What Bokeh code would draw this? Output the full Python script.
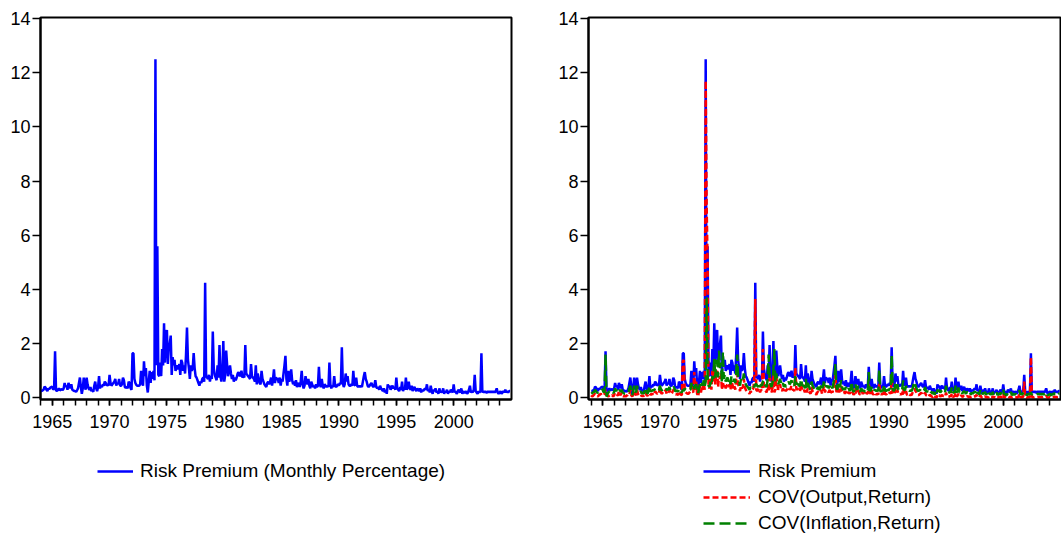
import numpy as np
from bokeh.plotting import figure
from bokeh.models import Range1d, FixedTicker, Legend, LegendItem
from bokeh.layouts import row, column
from bokeh.embed import file_html
from bokeh.resources import INLINE

# ---------------- data (monthly, Jan 1964 - Dec 2004) ----------------
start_year = 1964
tick_years = [1965, 1970, 1975, 1980, 1985, 1990, 1995, 2000]
tick_labels = ["1965", "1970", "1975", "1980", "1985", "1990", "1995", "2000"]
minor_years = list(range(1964, 2005))
y_ticks = [0, 2, 4, 6, 8, 10, 12, 14]
y_labels = ["0", "2", "4", "6", "8", "10", "12", "14"]

label_left = "Risk Premium (Monthly Percentage)"
label_rp = "Risk Premium"
label_out = "COV(Output,Return)"
label_inf = "COV(Inflation,Return)"

# Risk premium
rp_1964_1973 = [
    0.25, 0.25, 0.28, 0.30, 0.42, 0.38, 0.30, 0.25, 0.35, 0.32, 0.38, 0.40,
    0.42, 0.30, 0.35, 1.72, 0.28, 0.25, 0.30, 0.35, 0.28, 0.30, 0.33, 0.28,
    0.35, 0.55, 0.40, 0.45, 0.30, 0.55, 0.45, 0.35, 0.50, 0.30, 0.28, 0.25,
    0.25, 0.22, 0.28, 0.35, 0.55, 0.75, 0.40, 0.15, 0.35, 0.75, 0.45, 0.30,
    0.75, 0.50, 0.35, 0.30, 0.40, 0.25, 0.30, 0.22, 0.45, 0.60, 0.35, 0.25,
    0.40, 0.80, 0.35, 0.45, 0.40, 0.50, 0.45, 0.60, 0.55, 0.45, 0.50, 0.45,
    0.85, 0.55, 0.45, 0.50, 0.55, 0.60, 0.70, 0.45, 0.55, 0.50, 0.70, 0.45,
    0.45, 0.50, 0.75, 0.65, 0.40, 0.38, 0.40, 0.35, 0.60, 0.55, 0.35, 0.30,
    1.65, 1.65, 0.70, 0.55, 0.48, 0.45, 0.45, 0.45, 0.50, 1.00, 0.60, 0.45,
    1.35, 0.80, 1.10, 0.45, 0.20, 0.60, 1.00, 0.55, 0.95, 0.70, 1.00, 0.65,
]
rp_1974_1983 = [
    12.5, 1.20, 5.60, 0.85, 0.80, 1.30, 0.80, 1.80, 1.20, 2.75, 1.30, 2.40,
    2.50, 1.25, 1.90, 2.00, 2.30, 0.85, 1.50, 1.20, 1.40, 1.00, 1.10, 1.20,
    1.05, 1.25, 0.85, 1.40, 1.30, 1.00, 1.20, 0.90, 1.60, 2.60, 1.40, 1.10,
    0.70, 1.20, 1.00, 1.10, 1.65, 1.10, 0.80, 0.75, 0.65, 0.55, 0.45, 0.60,
    0.55, 0.70, 0.75, 0.60, 4.25, 0.80, 0.75, 0.70, 0.85, 0.60, 0.80, 0.70,
    2.45, 1.10, 0.85, 0.75, 0.65, 1.20, 0.75, 1.95, 0.80, 0.60, 0.90, 2.10,
    0.60, 0.85, 1.75, 1.20, 0.80, 1.00, 1.20, 0.90, 0.70, 0.85, 0.60, 0.75,
    0.65, 0.75, 0.90, 0.95, 0.80, 0.85, 1.00, 0.75, 0.80, 0.75, 1.95, 0.90,
    0.85, 0.80, 0.75, 0.70, 1.25, 0.80, 0.75, 0.70, 0.60, 1.20, 0.50, 0.90,
    0.70, 0.55, 0.50, 1.00, 0.70, 0.60, 0.50, 0.45, 0.40, 0.55, 0.60, 0.50,
]
rp_1984_1993 = [
    0.60, 0.75, 0.45, 0.70, 1.05, 0.55, 0.75, 0.70, 0.70, 0.55, 0.75, 0.45,
    0.70, 0.60, 0.90, 1.20, 1.55, 0.70, 0.45, 1.00, 0.60, 0.75, 1.05, 0.65,
    0.50, 0.60, 0.45, 0.65, 0.40, 0.50, 0.55, 0.40, 0.60, 1.00, 0.50, 0.35,
    0.45, 0.80, 0.60, 0.50, 0.70, 0.45, 0.35, 0.60, 0.50, 0.40, 0.45, 0.35,
    0.50, 0.40, 0.45, 1.15, 0.50, 0.40, 0.70, 0.45, 0.35, 0.50, 0.45, 0.40,
    0.45, 0.40, 1.30, 0.50, 0.35, 0.45, 0.40, 0.80, 0.45, 0.40, 0.45, 0.50,
    0.45, 0.55, 0.50, 1.87, 0.55, 0.40, 0.50, 0.90, 0.60, 0.80, 0.50, 0.45,
    0.45, 0.50, 0.45, 1.00, 0.50, 0.45, 0.75, 0.45, 0.40, 0.45, 0.40, 0.45,
    0.40, 0.60, 0.80, 0.95, 0.70, 0.60, 0.45, 0.40, 0.45, 0.50, 0.55, 0.45,
    0.40, 0.45, 0.65, 0.40, 0.35, 0.40, 0.30, 0.45, 0.35, 0.30, 0.25, 0.35,
]
rp_1994_2004 = [
    0.20, 0.30, 0.15, 0.50, 0.40, 0.45, 0.30, 0.40, 0.45, 0.35, 0.40, 0.30,
    0.75, 0.35, 0.30, 0.25, 0.40, 0.30, 0.60, 0.25, 0.35, 0.30, 0.75, 0.30,
    0.40, 0.60, 0.35, 0.30, 0.45, 0.25, 0.35, 0.40, 0.30, 0.25, 0.35, 0.30,
    0.25, 0.35, 0.20, 0.30, 0.25, 0.30, 0.35, 0.30, 0.50, 0.25, 0.30, 0.20,
    0.45, 0.25, 0.15, 0.30, 0.25, 0.35, 0.20, 0.25, 0.15, 0.35, 0.20, 0.25,
    0.20, 0.35, 0.15, 0.25, 0.20, 0.30, 0.15, 0.25, 0.20, 0.30, 0.25, 0.20,
    0.50, 0.20, 0.25, 0.15, 0.20, 0.30, 0.25, 0.20, 0.35, 0.15, 0.25, 0.20,
    0.20, 0.25, 0.15, 0.20, 0.30, 0.45, 0.20, 0.25, 0.20, 0.30, 0.85, 0.25,
    0.20, 0.15, 0.25, 0.20, 0.25, 1.65, 0.20, 0.25, 0.20, 0.25, 0.20, 0.20,
    0.25, 0.20, 0.25, 0.20, 0.25, 0.20, 0.25, 0.20, 0.25, 0.35, 0.20, 0.15,
    0.20, 0.25, 0.15, 0.20, 0.25, 0.20, 0.30, 0.20, 0.25, 0.20, 0.25, 0.25,
]

# COV(Output, Return)
cov_out_1964_1973 = [
    0.10, 0.05, 0.08, 0.12, 0.15, 0.10, 0.08, 0.05, 0.10, 0.12, 0.15, 0.10,
    0.12, 0.10, 0.15, 0.30, 0.10, 0.08, 0.05, 0.10, 0.12, 0.08, 0.10, 0.05,
    0.10, 0.20, 0.15, 0.12, 0.08, 0.25, 0.15, 0.10, 0.20, 0.08, 0.05, 0.08,
    0.05, 0.08, 0.10, 0.15, 0.12, 0.30, 0.10, 0.05, 0.12, 0.25, 0.15, 0.10,
    0.30, 0.15, 0.10, 0.08, 0.12, 0.05, 0.10, 0.05, 0.15, 0.20, 0.10, 0.08,
    0.12, 0.35, 0.10, 0.15, 0.12, 0.20, 0.15, 0.25, 0.20, 0.15, 0.18, 0.15,
    0.40, 0.20, 0.15, 0.20, 0.25, 0.22, 0.30, 0.15, 0.20, 0.18, 0.30, 0.15,
    0.15, 0.20, 0.30, 0.25, 0.15, 0.12, 0.15, 0.10, 0.25, 0.20, 0.12, 0.10,
    1.35, 1.40, 0.30, 0.20, 0.18, 0.15, 0.15, 0.20, 0.25, 0.60, 0.25, 0.20,
    0.95, 0.30, 0.60, 0.15, 0.05, 0.25, 0.50, 0.20, 0.40, 0.30, 0.55, 0.30,
]
cov_out_1974_1983 = [
    11.7, 7.10, 5.00, 0.40, 0.35, 0.70, 0.30, 1.00, 0.60, 1.20, 0.50, 0.90,
    1.00, 0.40, 0.80, 0.70, 0.90, 0.30, 0.60, 0.40, 0.50, 0.35, 0.45, 0.50,
    0.40, 0.50, 0.30, 0.60, 0.50, 0.35, 0.45, 0.30, 0.70, 0.90, 0.50, 0.40,
    0.25, 0.45, 0.35, 0.40, 0.70, 0.40, 0.30, 0.25, 0.20, 0.20, 0.15, 0.25,
    0.20, 0.30, 0.35, 0.80, 3.65, 0.30, 0.25, 0.30, 0.35, 0.20, 0.30, 0.25,
    1.80, 0.50, 0.30, 0.25, 0.20, 0.50, 0.25, 0.90, 0.30, 0.20, 0.35, 0.90,
    0.20, 0.30, 0.80, 0.50, 0.30, 0.40, 0.50, 0.30, 0.25, 0.35, 0.20, 0.30,
    0.25, 0.30, 0.35, 0.40, 0.30, 0.35, 0.45, 0.30, 0.30, 0.25, 1.10, 0.35,
    0.30, 0.35, 0.30, 0.25, 0.55, 0.30, 0.25, 0.30, 0.20, 0.50, 0.20, 0.35,
    0.25, 0.20, 0.15, 0.40, 0.25, 0.20, 0.15, 0.15, 0.12, 0.20, 0.25, 0.20,
]
cov_out_1984_1993 = [
    0.20, 0.30, 0.15, 0.25, 0.45, 0.20, 0.30, 0.25, 0.25, 0.20, 0.30, 0.15,
    0.25, 0.20, 0.35, 0.50, 0.90, 0.25, 0.15, 0.40, 0.20, 0.30, 0.45, 0.25,
    0.20, 0.25, 0.15, 0.25, 0.15, 0.20, 0.20, 0.15, 0.25, 0.45, 0.20, 0.12,
    0.15, 0.35, 0.20, 0.20, 0.30, 0.15, 0.12, 0.25, 0.20, 0.15, 0.20, 0.12,
    0.20, 0.15, 0.18, 0.50, 0.20, 0.15, 0.30, 0.15, 0.12, 0.20, 0.15, 0.12,
    0.15, 0.12, 0.55, 0.20, 0.12, 0.15, 0.12, 0.30, 0.15, 0.12, 0.15, 0.20,
    0.15, 0.20, 0.15, 0.70, 0.20, 0.12, 0.15, 0.35, 0.20, 0.30, 0.15, 0.15,
    0.12, 0.15, 0.12, 0.35, 0.15, 0.12, 0.25, 0.12, 0.10, 0.15, 0.10, 0.12,
    0.10, 0.20, 0.30, 0.35, 0.25, 0.20, 0.12, 0.10, 0.12, 0.15, 0.20, 0.12,
    0.10, 0.12, 0.20, 0.10, 0.08, 0.10, 0.05, 0.12, 0.08, 0.05, 0.03, 0.08,
]
cov_out_1994_2004 = [
    0.02, 0.05, 0.00, 0.12, 0.08, 0.10, 0.05, 0.08, 0.10, 0.06, 0.08, 0.05,
    0.20, 0.06, 0.05, 0.03, 0.08, 0.05, 0.15, 0.03, 0.06, 0.05, 0.20, 0.05,
    0.08, 0.15, 0.06, 0.05, 0.10, 0.03, 0.06, 0.08, 0.05, 0.03, 0.06, 0.05,
    0.03, 0.06, 0.02, 0.05, 0.03, 0.05, 0.06, 0.05, 0.12, 0.03, 0.05, 0.02,
    0.10, 0.03, 0.00, 0.05, 0.03, 0.06, 0.02, 0.03, 0.00, 0.06, 0.02, 0.03,
    0.02, 0.06, 0.00, 0.03, 0.02, 0.05, 0.00, 0.03, 0.02, 0.05, 0.03, 0.02,
    0.15, 0.02, 0.03, 0.00, 0.02, 0.05, 0.03, 0.02, 0.06, 0.00, 0.03, 0.02,
    0.02, 0.03, 0.00, 0.02, 0.05, 0.15, 0.02, 0.03, 0.02, 0.05, 0.60, 0.03,
    0.02, 0.00, 0.03, 0.02, 0.03, 1.50, 0.02, 0.03, 0.02, 0.03, 0.02, 0.02,
    0.03, 0.02, 0.03, 0.02, 0.03, 0.02, 0.03, 0.02, 0.03, 0.08, 0.02, 0.00,
    0.02, 0.03, 0.00, 0.02, 0.03, 0.02, 0.05, 0.02, 0.03, 0.02, 0.03, 0.03,
]

# COV(Inflation, Return)
cov_inf_1964_1973 = [
    0.15, 0.18, 0.20, 0.22, 0.30, 0.25, 0.20, 0.18, 0.25, 0.22, 0.28, 0.30,
    0.30, 0.20, 0.25, 1.60, 0.05, 0.15, 0.20, 0.25, 0.18, 0.20, 0.22, 0.18,
    0.22, 0.35, 0.25, 0.30, 0.20, 0.30, 0.28, 0.22, 0.30, 0.20, 0.18, 0.15,
    0.15, 0.12, 0.18, 0.22, 0.35, 0.45, 0.25, 0.10, 0.22, 0.45, 0.28, 0.20,
    0.45, 0.30, 0.22, 0.20, 0.25, 0.15, 0.20, 0.15, 0.28, 0.38, 0.22, 0.15,
    0.25, 0.45, 0.22, 0.28, 0.25, 0.30, 0.28, 0.35, 0.32, 0.28, 0.30, 0.28,
    0.45, 0.32, 0.28, 0.30, 0.32, 0.35, 0.40, 0.28, 0.32, 0.30, 0.40, 0.28,
    0.28, 0.30, 0.40, 0.38, 0.25, 0.25, 0.28, 0.22, 0.35, 0.32, 0.22, 0.20,
    0.30, 0.25, 0.35, 0.30, 0.28, 0.28, 0.25, 0.28, 0.30, 0.55, 0.35, 0.28,
    0.40, 0.45, 0.50, 0.28, 0.15, 0.35, 0.50, 0.35, 0.55, 0.45, 0.65, 0.45,
]
cov_inf_1974_1983 = [
    0.60, 3.70, 0.80, 0.45, 0.40, 0.60, 0.45, 0.80, 0.70, 1.50, 0.75, 1.30,
    1.40, 0.75, 1.75, 1.10, 1.30, 0.55, 1.70, 0.70, 0.85, 0.60, 0.70, 0.75,
    0.60, 0.70, 0.50, 0.80, 0.75, 0.60, 0.70, 0.55, 0.90, 1.60, 0.80, 0.65,
    0.45, 0.70, 0.60, 0.65, 0.90, 0.65, 0.50, 0.45, 0.40, 0.35, 0.30, 0.40,
    0.35, 0.45, 0.45, 0.40, 0.50, 0.50, 0.45, 0.40, 0.55, 0.40, 0.50, 0.45,
    0.60, 0.65, 0.50, 0.45, 0.40, 0.70, 1.60, 0.75, 0.50, 0.40, 0.55, 1.00,
    1.80, 0.55, 0.90, 0.70, 0.50, 0.60, 0.70, 0.55, 0.45, 0.55, 0.40, 0.50,
    0.40, 0.45, 0.55, 0.60, 0.50, 0.55, 0.65, 0.45, 0.50, 0.45, 0.80, 0.55,
    0.50, 0.50, 0.45, 0.45, 0.70, 0.50, 0.45, 0.45, 0.35, 0.70, 0.30, 0.55,
    0.45, 0.35, 0.30, 0.60, 0.45, 0.40, 0.30, 0.30, 0.25, 0.35, 0.40, 0.30,
]
cov_inf_1984_1993 = [
    0.35, 0.45, 0.30, 0.45, 0.60, 0.35, 0.45, 0.40, 0.45, 0.35, 0.45, 0.30,
    0.40, 0.35, 0.55, 0.70, 1.25, 0.40, 0.30, 0.60, 0.40, 0.45, 0.65, 0.40,
    0.30, 0.35, 0.30, 0.40, 0.25, 0.30, 0.35, 0.25, 0.35, 0.60, 0.30, 0.22,
    0.28, 0.50, 0.35, 0.30, 0.45, 0.28, 0.22, 0.35, 0.30, 0.25, 0.28, 0.22,
    0.30, 0.25, 0.28, 0.95, 0.30, 0.25, 0.40, 0.28, 0.22, 0.30, 0.28, 0.25,
    0.28, 0.25, 1.05, 0.30, 0.22, 0.28, 0.25, 0.50, 0.28, 0.25, 0.28, 0.30,
    0.28, 0.35, 0.30, 1.60, 0.35, 0.25, 0.30, 0.55, 0.35, 0.50, 0.30, 0.28,
    0.28, 0.30, 0.28, 0.65, 0.30, 0.28, 0.45, 0.28, 0.25, 0.28, 0.25, 0.28,
    0.25, 0.35, 0.50, 0.60, 0.45, 0.35, 0.28, 0.25, 0.28, 0.30, 0.35, 0.28,
    0.25, 0.28, 0.40, 0.25, 0.22, 0.25, 0.20, 0.28, 0.22, 0.20, 0.15, 0.22,
]
cov_inf_1994_2004 = [
    0.12, 0.20, 0.10, 0.30, 0.25, 0.28, 0.20, 0.25, 0.28, 0.22, 0.25, 0.20,
    0.45, 0.22, 0.20, 0.15, 0.25, 0.20, 0.38, 0.15, 0.22, 0.20, 0.45, 0.20,
    0.25, 0.38, 0.22, 0.20, 0.28, 0.15, 0.22, 0.25, 0.20, 0.15, 0.22, 0.20,
    0.15, 0.22, 0.12, 0.20, 0.15, 0.20, 0.22, 0.20, 0.32, 0.15, 0.20, 0.12,
    0.28, 0.15, 0.10, 0.20, 0.15, 0.22, 0.12, 0.15, 0.10, 0.22, 0.12, 0.15,
    0.12, 0.22, 0.10, 0.15, 0.12, 0.20, 0.10, 0.15, 0.12, 0.20, 0.15, 0.12,
    0.30, 0.12, 0.15, 0.10, 0.12, 0.20, 0.15, 0.12, 0.22, 0.10, 0.15, 0.12,
    0.12, 0.15, 0.10, 0.12, 0.20, 0.28, 0.12, 0.15, 0.12, 0.20, 0.25, 0.15,
    0.12, 0.10, 0.15, 0.12, 0.15, 0.20, 0.12, 0.15, 0.12, 0.15, 0.12, 0.12,
    0.15, 0.12, 0.15, 0.12, 0.15, 0.12, 0.15, 0.12, 0.15, 0.22, 0.12, 0.10,
    0.12, 0.15, 0.10, 0.12, 0.15, 0.12, 0.18, 0.12, 0.15, 0.12, 0.15, 0.15,
]

risk = rp_1964_1973 + rp_1974_1983 + rp_1984_1993 + rp_1994_2004
cov_out = cov_out_1964_1973 + cov_out_1974_1983 + cov_out_1984_1993 + cov_out_1994_2004
cov_inf = cov_inf_1964_1973 + cov_inf_1974_1983 + cov_inf_1984_1993 + cov_inf_1994_2004
months = start_year + np.arange(len(risk)) / 12.0

# ---------------- styling ----------------
FONT = "Liberation Sans"
FS = "18px"
LEG_FS = "19px"
BLUE = "#0000FF"
RED = "#FF0000"
GREEN = "#008000"
RED_DASH = "6 3"
GREEN_DASH = "11 5"
LW = 2.5
TOP_H = 439      # chart figures height
LEG_H = 98       # legend strip height
LEFT_W = 555
RIGHT_W = 506


def style(p):
    p.grid.visible = False
    p.outline_line_color = "black"
    p.outline_line_width = 2
    p.background_fill_color = "white"
    p.border_fill_color = "white"
    xa = p.xaxis[0]
    xa.ticker = FixedTicker(ticks=tick_years, minor_ticks=minor_years)
    xa.major_label_overrides = dict(zip(tick_years, tick_labels))
    xa.major_tick_in = 0
    xa.major_tick_out = 6
    xa.minor_tick_in = 0
    xa.minor_tick_out = 6
    xa.major_label_standoff = 9
    ya = p.yaxis[0]
    ya.ticker = FixedTicker(ticks=y_ticks, minor_ticks=[])
    ya.major_label_overrides = dict(zip(y_ticks, y_labels))
    ya.major_tick_in = 0
    ya.major_tick_out = 8
    ya.minor_tick_out = 0
    ya.major_label_standoff = 2
    for ax in (xa, ya):
        ax.axis_line_color = "black"
        ax.axis_line_width = 2
        ax.major_tick_line_color = "black"
        ax.major_tick_line_width = 1.5
        ax.minor_tick_line_color = "black"
        ax.minor_tick_line_width = 1.5
        ax.major_label_text_font = FONT
        ax.major_label_text_font_size = FS
        ax.major_label_text_color = "black"


def legend_strip(width, specs, x, vy, glyph_w, standoff):
    # the series lines lie outside this strip's ranges: only the legend shows
    f = figure(width=width, height=LEG_H, output_backend="svg", toolbar_location=None,
               x_range=Range1d(0, 1), y_range=Range1d(-100, -99),
               x_axis_location=None, y_axis_location=None,
               min_border=0, outline_line_color=None)
    f.grid.visible = False
    f.border_fill_color = "white"
    items = []
    for lab, vals, col, dash in specs:
        r = f.line(months, vals, line_color=col, line_width=LW, line_dash=dash)
        items.append(LegendItem(label=lab, renderers=[r]))
    lg = Legend(items=items, location=(x, vy))
    lg.border_line_color = None
    lg.background_fill_alpha = 0
    lg.padding = 0
    lg.margin = 0
    lg.spacing = 4
    lg.label_text_font = FONT
    lg.label_text_font_size = LEG_FS
    lg.label_text_color = "black"
    lg.glyph_width = glyph_w
    lg.glyph_height = 20
    lg.label_height = 20
    lg.label_standoff = standoff
    f.add_layout(lg)
    return f


# ---------------- left panel ----------------
p1 = figure(width=LEFT_W, height=TOP_H, output_backend="svg", toolbar_location=None,
            x_range=Range1d(1963.98, 2005.04), y_range=Range1d(-0.06, 14.04),
            min_border_left=40, min_border_right=44, min_border_top=17,
            min_border_bottom=40)
style(p1)
p1.line(months, risk, line_color=BLUE, line_width=LW)

# ---------------- right panel ----------------
p2 = figure(width=RIGHT_W, height=TOP_H, output_backend="svg", toolbar_location=None,
            x_range=Range1d(1963.76, 2005.09), y_range=Range1d(-0.06, 14.04),
            min_border_left=32, min_border_right=0, min_border_top=17,
            min_border_bottom=40)
style(p2)
p2.line(months, risk, line_color=BLUE, line_width=LW)
p2.line(months, cov_out, line_color=RED, line_width=LW, line_dash=RED_DASH)
p2.line(months, cov_inf, line_color=GREEN, line_width=LW, line_dash=GREEN_DASH)

# ---------------- legends ----------------
leg1 = legend_strip(LEFT_W, [(label_left, risk, BLUE, "solid")], 97, 55, 36, 7)
leg2 = legend_strip(RIGHT_W, [(label_rp, risk, BLUE, "solid"),
                              (label_out, cov_out, RED, RED_DASH),
                              (label_inf, cov_inf, GREEN, GREEN_DASH)], 148, 3, 47, 8)

layout = column(row(p1, p2), row(leg1, leg2))
open("out.html", "w").write(file_html(layout, INLINE))
